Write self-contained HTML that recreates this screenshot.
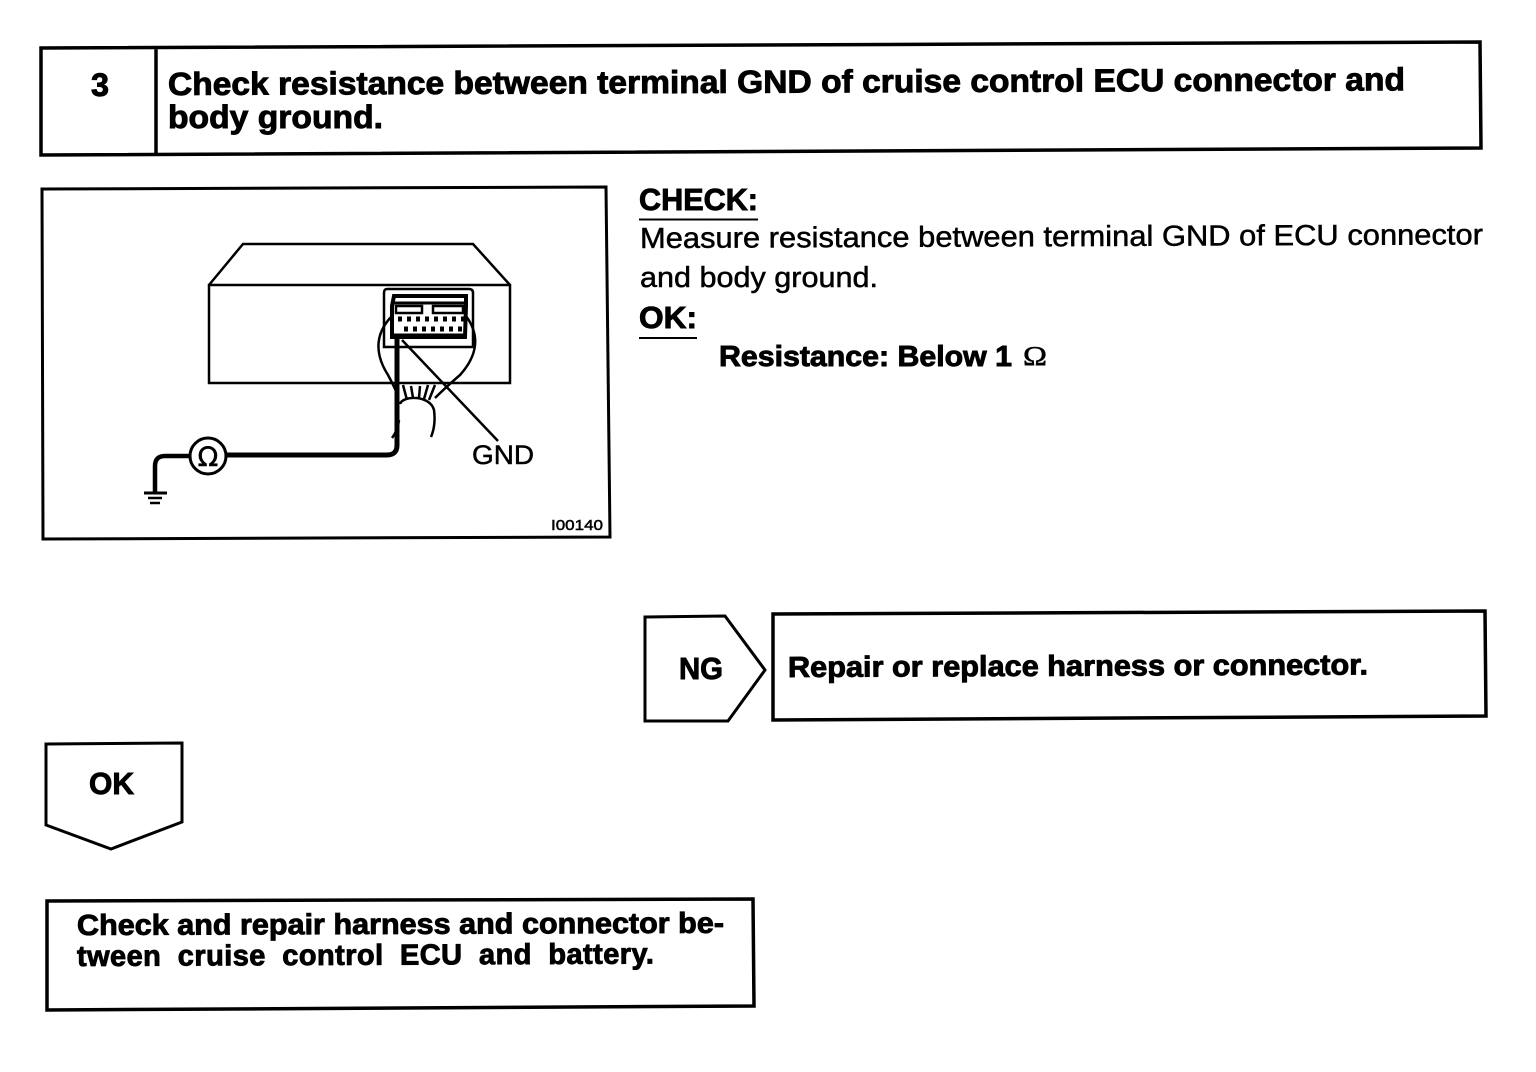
<!DOCTYPE html>
<html><head><meta charset="utf-8"><style>
html,body{margin:0;padding:0;background:#fff}
svg{display:block}
text{font-family:"Liberation Sans",sans-serif;fill:#000}
.b{font-weight:bold;stroke:#000;stroke-width:.9px}
.r{stroke:#000;stroke-width:.5px}
</style></head><body>
<svg width="1536" height="1072" viewBox="0 0 1536 1072" xmlns="http://www.w3.org/2000/svg">
<g fill="none" stroke="#000" stroke-linejoin="miter">
<path d="M41 48L1480 42L1481 148L41 155Z M156 48V154" stroke-width="3.5"/>
<path d="M42 189L606 187L610 537L43 539Z" stroke-width="3"/>
<path d="M645 617L725 616L765 670L728 721L645 721Z" stroke-width="3"/>
<path d="M773 614L1485 611L1486 716L773 720Z" stroke-width="3.5"/>
<path d="M46 744L182 743L182 822L111 849L46 825Z" stroke-width="3"/>
<path d="M47 901L753 899L754 1006L47 1010Z" stroke-width="3.5"/>
<path d="M639 219.500H758M639 338H697" stroke-width="2"/>
<!-- ECU -->
<path d="M209 285L243 244H473L510 285M209 285H510V383H209Z" stroke-width="2.500"/>
<path d="M387 289H469Q473 289 473 293V347H384V293Q384 289 387 289Z" stroke-width="2.500"/>
<path d="M392 337V306L394 296H466V306L465 337Z" stroke-width="4"/>
<path d="M394 303H466" stroke-width="3"/>
<path d="M396 306H422V313H396ZM433 306H463V313H433Z" stroke-width="2.500"/>
<path d="M393 336H465" stroke-width="5"/>
<path d="M398 319H464M404 329H464" stroke-width="5" stroke-dasharray="4 5"/>
<path d="M392 316C378 330 372 350 388 375Q395 388 398 396M466 316C480 335 478 355 460 375Q445 388 435 398" stroke-width="2.500"/>
<path d="M400 404C403 395 430 395 434 410Q436 425 431 437M392 438Q398 430 399 420M403 385L407 400M411 386L413 398M420 386L419 398M428 385L424 399M435 385L429 400" stroke-width="2.500"/>
<path d="M402 340L498 441" stroke-width="2.500"/>
<path d="M397 338V445Q397 455 387 455H226" stroke-width="5"/>
<circle cx="208" cy="456" r="18" stroke-width="3"/>
<path d="M190 456H165Q155 456 155 466V492" stroke-width="4.500"/>
<path d="M144 493H167" stroke-width="3"/><path d="M148 498H162" stroke-width="2.500"/><path d="M150 503H160" stroke-width="2.500"/>
</g>
<text x="208" y="466" font-size="27" text-anchor="middle" class="r" style="font-family:'DejaVu Sans',sans-serif">Ω</text>
<text x="472" y="464" font-size="27" textLength="62" lengthAdjust="spacingAndGlyphs" class="r">GND</text>
<text x="551" y="530" font-size="15" textLength="52" lengthAdjust="spacingAndGlyphs" class="r">I00140</text>
<text x="91" y="96" font-size="32" textLength="18" lengthAdjust="spacingAndGlyphs" class="b">3</text>
<text x="168" y="95" font-size="32" textLength="1237" lengthAdjust="spacingAndGlyphs" class="b" transform="rotate(-.22 168 95)">Check resistance between terminal GND of cruise control ECU connector and</text>
<text x="168" y="128" font-size="32" textLength="215" lengthAdjust="spacingAndGlyphs" class="b">body ground.</text>
<text x="639" y="210" font-size="31" textLength="119" lengthAdjust="spacingAndGlyphs" class="b">CHECK:</text>
<text x="640" y="248" font-size="29" textLength="843" lengthAdjust="spacingAndGlyphs" class="r" transform="rotate(-.25 640 248)">Measure resistance between terminal GND of ECU connector</text>
<text x="640" y="287" font-size="29" textLength="238" lengthAdjust="spacingAndGlyphs" class="r">and body ground.</text>
<text x="639" y="328" font-size="31" textLength="58" lengthAdjust="spacingAndGlyphs" class="b">OK:</text>
<text x="719" y="366" font-size="29" textLength="293" lengthAdjust="spacingAndGlyphs" class="b">Resistance: Below 1</text>
<text x="1023" y="365" font-size="27" textLength="24" lengthAdjust="spacingAndGlyphs" class="r" style="font-family:'Liberation Serif',serif">Ω</text>
<text x="679" y="679" font-size="31" textLength="44" lengthAdjust="spacingAndGlyphs" class="b">NG</text>
<text x="788" y="677" font-size="29" textLength="580" lengthAdjust="spacingAndGlyphs" class="b" transform="rotate(-.25 788 677)">Repair or replace harness or connector.</text>
<text x="89" y="794" font-size="31" textLength="45" lengthAdjust="spacingAndGlyphs" class="b">OK</text>
<text x="77" y="935" font-size="29" textLength="647" lengthAdjust="spacingAndGlyphs" class="b" transform="rotate(-.2 77 935)">Check and repair harness and connector be-</text>
<text x="77" y="966" font-size="29" textLength="577" lengthAdjust="spacing" class="b" transform="rotate(-.25 77 966)" word-spacing="8">tween cruise control ECU and battery.</text>
</svg>
</body></html>
